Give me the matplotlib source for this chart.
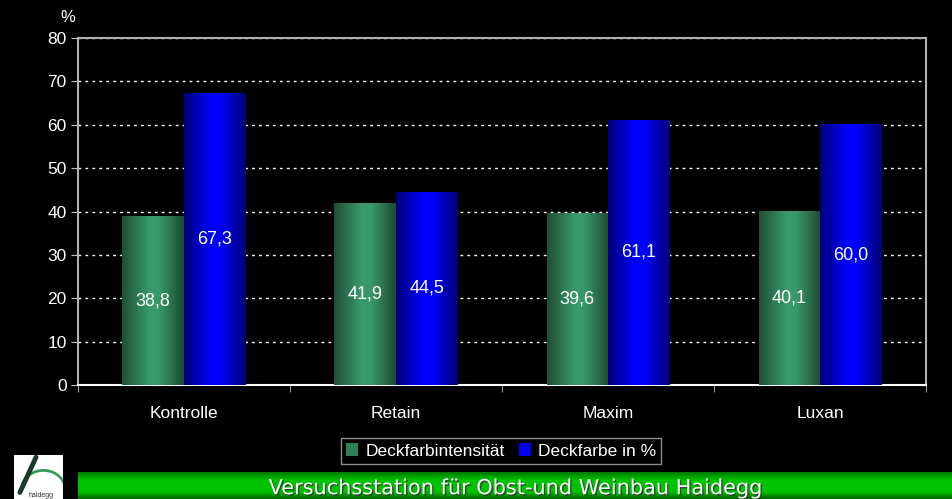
import numpy as np
import matplotlib
matplotlib.use("Agg")
import matplotlib.pyplot as plt
from matplotlib.colors import LinearSegmentedColormap
from matplotlib.patches import Patch, Rectangle, Arc
import matplotlib.patheffects as pe

# Data
categories = ["Kontrolle", "Retain", "Maxim", "Luxan"]
intensitaet = [38.8, 41.9, 39.6, 40.1]
deckfarbe = [67.3, 44.5, 61.1, 60.0]
series_names = ["Deckfarbintensität", "Deckfarbe in %"]
yticks = [0, 10, 20, 30, 40, 50, 60, 70, 80]

plt.rcParams['font.family'] = ['Liberation Sans', 'DejaVu Sans']

green_cmap = LinearSegmentedColormap.from_list(
    "g", [(0, "#1f4f36"), (0.45, "#3a9a6c"), (0.6, "#389868"), (1, "#1e4a33")])
blue_cmap = LinearSegmentedColormap.from_list(
    "b", [(0, "#00007a"), (0.45, "#0000ff"), (0.6, "#0000f8"), (1, "#000070")])

fig = plt.figure(figsize=(9.53, 4.99), dpi=100, facecolor="black")
ax = fig.add_axes([0.0818, 0.2285, 0.8899, 0.6953])
ax.set_facecolor("black")

x = np.arange(len(categories))
w = 0.29
grad = np.linspace(0, 1, 256).reshape(1, -1)

bars1 = ax.bar(x - w / 2, intensitaet, w, color="none", zorder=3)
bars2 = ax.bar(x + w / 2, deckfarbe, w, color="none", zorder=3)

for bars, cmap, vals in [(bars1, green_cmap, intensitaet), (bars2, blue_cmap, deckfarbe)]:
    for b, v in zip(bars, vals):
        x0 = b.get_x()
        ax.imshow(grad, cmap=cmap, extent=(x0, x0 + b.get_width(), 0, v),
                  aspect="auto", zorder=3)
        ax.text(x0 + b.get_width() / 2, v / 2, f"{v:.1f}".replace(".", ","),
                color="white", ha="center", va="center", fontsize=13, zorder=4)

ax.set_xlim(-0.5, len(categories) - 0.5)
ax.set_ylim(0, 80)
ax.set_yticks(yticks)
ax.tick_params(axis="y", colors="white", labelsize=12.5, length=5, direction="out",
               color="#c0c0c0", pad=3)
ax.set_xticks(x)
ax.set_xticklabels(categories)
ax.tick_params(axis="x", colors="white", labelsize=12.5, length=0, pad=15)
ax.set_xticks(np.arange(-0.5, len(categories)), minor=True)
ax.tick_params(axis="x", which="minor", length=5, color="#c0c0c0", direction="out")

ax.yaxis.grid(True, color="white", linestyle=(0, (2, 3)), linewidth=1)
ax.set_axisbelow(True)
for s in ["left", "right", "top"]:
    ax.spines[s].set_color("#b0b0b0")
    ax.spines[s].set_linewidth(1.5)
ax.spines["bottom"].set_color("white")
ax.spines["bottom"].set_linewidth(1.5)

fig.text(68 / 953, 1 - 17 / 499, "%", color="white", fontsize=12, ha="center", va="center")

handles = [Patch(facecolor="#2f7f57", edgecolor="none"), Patch(facecolor="#0000ee", edgecolor="none")]
leg = fig.legend(handles, series_names, loc="center", bbox_to_anchor=(501 / 953, 1 - 451 / 499),
                 ncol=2, frameon=True, fontsize=12.5, handlelength=0.7, handleheight=0.8,
                 handletextpad=0.4, columnspacing=0.8, borderpad=0.3, fancybox=False)
leg.get_frame().set_facecolor("black")
leg.get_frame().set_edgecolor("#b0b0b0")
for t in leg.get_texts():
    t.set_color("white")

# banner
ban = fig.add_axes([78 / 953, 0, 1 - 78 / 953, 27 / 499])
banner_cmap = LinearSegmentedColormap.from_list(
    "ban", [(0, "#007a00"), (0.3, "#00c400"), (0.75, "#00c000"), (1, "#006000")])
ban.imshow(np.linspace(0, 1, 64).reshape(-1, 1), cmap=banner_cmap, aspect="auto",
           extent=(0, 1, 0, 1))
ban.set_xlim(0, 1)
ban.set_ylim(0, 1)
ban.axis("off")
ban.text(0.5, 0.4, "Versuchsstation für Obst-und Weinbau Haidegg", color="white",
         ha="center", va="center", fontsize=15, family="DejaVu Sans",
         path_effects=[pe.withSimplePatchShadow(offset=(1, -1), shadow_rgbFace="#333333", alpha=0.8)])

# logo
logo = fig.add_axes([14 / 953, 0, 49 / 953, 44 / 499])
logo.set_xlim(0, 1)
logo.set_ylim(0, 1)
logo.axis("off")
logo.add_patch(Rectangle((0, 0), 1, 1, facecolor="white", edgecolor="none"))
logo.plot([0.45, 0.12], [0.95, 0.15], color="#1a3a2a", linewidth=3.5, solid_capstyle="round")
logo.add_patch(Arc((0.6, 0.2), 0.9, 0.9, theta1=15, theta2=160, color="#3a9a5a", linewidth=2))
logo.text(0.55, 0.08, "haidegg", fontsize=5, ha="center", va="center", color="#333333")

fig.savefig("out.png", dpi=100, facecolor="black")
